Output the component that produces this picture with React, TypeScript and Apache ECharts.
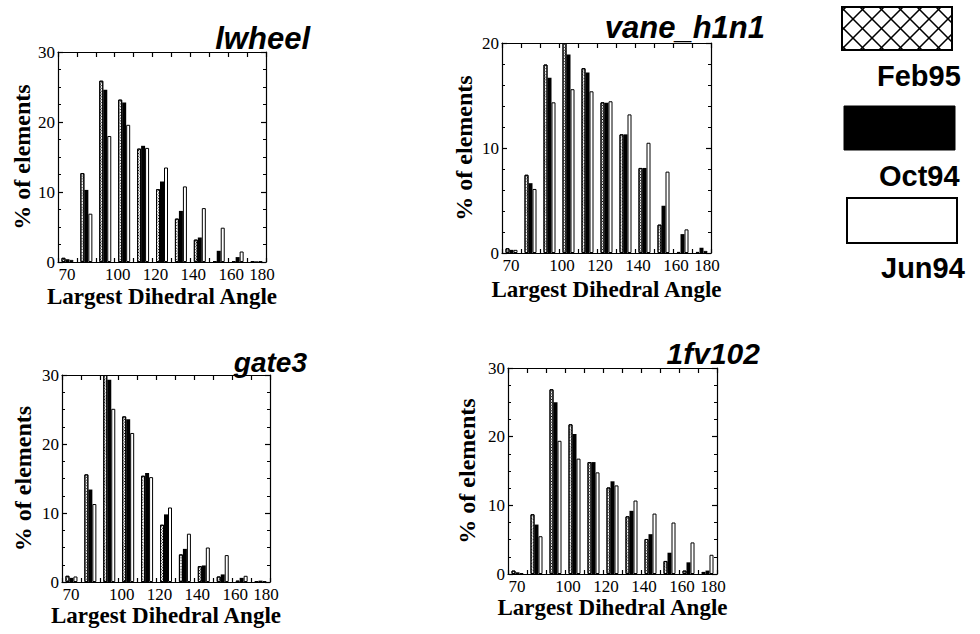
import React, { useEffect, useRef } from 'react';
import * as echarts from 'echarts';

const bins = ['70', '80', '90', '100', '110', '120', '130', '140', '150', '160', '170'];
const xTickLabels = [70, 100, 120, 140, 160, 180];
const legendNames = ['Feb95', 'Oct94', 'Jun94'];
const xAxisTitle = 'Largest Dihedral Angle';
const yAxisTitle = '% of elements';

const lwheelFeb95 = [0.6, 12.7, 25.9, 23.2, 16.2, 10.4, 6.2, 3.2, 0.1, 0.1, 0.1];
const lwheelOct94 = [0.4, 10.3, 24.6, 22.8, 16.6, 11.5, 7.3, 3.5, 1.6, 0.7, 0.1];
const lwheelJun94 = [0.3, 6.9, 18.0, 19.6, 16.3, 13.5, 10.8, 7.7, 4.9, 1.5, 0.1];

const vaneFeb95 = [0.45, 7.45, 17.95, 20, 17.6, 14.35, 11.3, 8.1, 2.7, 0.1, 0.1];
const vaneOct94 = [0.3, 6.65, 16.7, 18.9, 17.2, 14.3, 11.3, 8.1, 4.5, 1.8, 0.5];
const vaneJun94 = [0.3, 6.1, 14.35, 15.6, 15.4, 14.45, 13.2, 10.5, 7.75, 2.25, 0.2];

const gateFeb95 = [0.9, 15.6, 30, 24.0, 15.4, 8.3, 4.0, 2.3, 0.8, 0.2, 0.1];
const gateOct94 = [0.6, 13.4, 29.3, 23.6, 15.8, 9.8, 4.8, 2.4, 1.1, 0.6, 0.2];
const gateJun94 = [0.8, 11.3, 25.1, 21.6, 15.2, 10.8, 7.0, 5.0, 3.9, 0.9, 0.1];

const fvFeb95 = [0.5, 8.7, 26.9, 21.8, 16.3, 12.6, 8.4, 5.1, 1.9, 0.5, 0.3];
const fvOct94 = [0.25, 7.2, 25.0, 20.4, 16.3, 13.5, 9.2, 5.8, 3.1, 1.7, 0.5];
const fvJun94 = [0.1, 5.5, 19.4, 16.8, 14.8, 12.9, 10.7, 8.8, 7.5, 4.6, 2.8];

const SERIF = '"Liberation Serif", "Times New Roman", serif';
const SANS = '"Liberation Sans", Arial, sans-serif';
const TICK_FS = 17;

const panels = [
  { title: 'lwheel', feb: lwheelFeb95, oct: lwheelOct94, jun: lwheelJun94, yMax: 30, minor: 4,
    grid: { left: 58, top: 52, width: 208, height: 210 }, tx: 310, ty: 38.5, ts: 31, xGap: 23, yGap: 24 },
  { title: 'vane_h1n1', feb: vaneFeb95, oct: vaneOct94, jun: vaneJun94, yMax: 20, minor: 5,
    grid: { left: 502, top: 43, width: 209, height: 210 }, tx: 765, ty: 27.5, ts: 31, xGap: 25, yGap: 26 },
  { title: 'gate3', feb: gateFeb95, oct: gateOct94, jun: gateJun94, yMax: 30, minor: 4,
    grid: { left: 62, top: 375, width: 208, height: 207 }, tx: 307, ty: 362, ts: 28, xGap: 21, yGap: 27 },
  { title: '1fv102', feb: fvFeb95, oct: fvOct94, jun: fvJun94, yMax: 30, minor: 4,
    grid: { left: 508, top: 368, width: 209, height: 206 }, tx: 760, ty: 353, ts: 30, xGap: 19, yGap: 29 },
];

const lineStyle = { color: '#000', width: 1.2 };

function hatchLines(x: number, y: number, w: number, h: number, step: number) {
  const els: any[] = [];
  const ls = { stroke: '#000', lineWidth: 1.6 };
  for (let c = -h + 4; c < w; c += step) {
    const p1 = c >= 0 ? [c, 0] : [0, -c];
    const p2 = c + h <= w ? [c + h, h] : [w, w - c];
    els.push({ type: 'line', shape: { x1: x + p1[0], y1: y + p1[1], x2: x + p2[0], y2: y + p2[1] }, style: ls, silent: true });
  }
  for (let c = 4; c < w + h; c += step) {
    const p1 = c <= w ? [c, 0] : [w, c - w];
    const p2 = c - h >= 0 ? [c - h, h] : [0, c];
    els.push({ type: 'line', shape: { x1: x + p1[0], y1: y + p1[1], x2: x + p2[0], y2: y + p2[1] }, style: ls, silent: true });
  }
  return els;
}

function buildOption() {
  const grid: any[] = [];
  const xAxis: any[] = [];
  const yAxis: any[] = [];
  const series: any[] = [];
  const graphic: any[] = [];

  panels.forEach((p, i) => {
    grid.push({ ...p.grid, containLabel: false });
    xAxis.push({
      type: 'value', gridIndex: i, min: 70, max: 180, interval: 10, position: 'bottom',
      axisLine: { show: true, onZero: false, lineStyle },
      axisTick: { show: true, inside: true, length: 4, lineStyle },
      splitLine: { show: false },
      axisLabel: {
        margin: 4, color: '#000', fontFamily: SERIF, fontSize: TICK_FS,
        formatter: (v: number) => {
          if (v === 70) return '{a|70}';
          if (v === 180) return '{c|180}';
          if (xTickLabels.indexOf(v) >= 0) return '{b|' + v + '}';
          return '';
        },
        rich: {
          a: { padding: [0, 0, 0, 18], fontFamily: SERIF, fontSize: TICK_FS, color: '#000' },
          b: { padding: [0, 0, 0, 6], fontFamily: SERIF, fontSize: TICK_FS, color: '#000' },
          c: { padding: [0, 8, 0, 0], fontFamily: SERIF, fontSize: TICK_FS, color: '#000' },
        },
      },
      name: xAxisTitle, nameLocation: 'middle', nameGap: p.xGap,
      nameTextStyle: { fontFamily: SERIF, fontWeight: 'bold', fontSize: 23, color: '#000' },
    });
    xAxis.push({
      type: 'category', gridIndex: i, data: bins, position: 'top', boundaryGap: true,
      axisLine: { show: true, onZero: false, lineStyle },
      axisTick: { show: true, inside: true, length: 5, interval: 0, alignWithLabel: false, lineStyle },
      axisLabel: { show: false },
      splitLine: { show: false },
    });
    yAxis.push({
      type: 'value', gridIndex: i, min: 0, max: p.yMax, interval: 10, position: 'left',
      axisLine: { show: true, onZero: false, lineStyle },
      axisTick: { show: true, inside: true, length: 5, lineStyle },
      minorTick: { show: true, splitNumber: p.minor, length: 3, lineStyle: { color: '#000', width: 1 } },
      splitLine: { show: false },
      axisLabel: { margin: 3, color: '#000', fontFamily: SERIF, fontSize: TICK_FS, padding: [10, 0, 0, 0] },
      name: yAxisTitle, nameLocation: 'middle', nameRotate: 90, nameGap: p.yGap,
      nameTextStyle: { fontFamily: SERIF, fontWeight: 'bold', fontSize: 24, color: '#000' },
    });
    yAxis.push({
      type: 'value', gridIndex: i, min: 0, max: p.yMax, interval: 10, position: 'right',
      axisLine: { show: true, onZero: false, lineStyle },
      axisTick: { show: true, inside: true, length: 5, lineStyle },
      minorTick: { show: true, splitNumber: p.minor, length: 3, lineStyle: { color: '#000', width: 1 } },
      splitLine: { show: false },
      axisLabel: { show: false },
    });
    const common = { type: 'bar', xAxisIndex: 2 * i + 1, yAxisIndex: 2 * i, barWidth: 4, barGap: '0%' };
    series.push({
      ...common, name: legendNames[0], data: p.feb,
      itemStyle: {
        color: '#fff', borderColor: '#000', borderWidth: 1,
        decal: { symbol: 'rect', symbolSize: 1, dashArrayX: [1, 1], dashArrayY: [1, 1], rotation: Math.PI / 4, color: '#000', backgroundColor: '#bbb' },
      },
    });
    series.push({ ...common, name: legendNames[1], data: p.oct, itemStyle: { color: '#000', borderColor: '#000', borderWidth: 0 } });
    series.push({ ...common, name: legendNames[2], data: p.jun, itemStyle: { color: '#fff', borderColor: '#000', borderWidth: 1 } });

    graphic.push({
      type: 'text', x: p.tx, y: p.ty, silent: true,
      style: { text: p.title, fill: '#000', font: `italic bold ${p.ts}px ${SANS}`, textAlign: 'right', textVerticalAlign: 'middle' },
    });
  });

  graphic.push(...hatchLines(842, 7, 110, 43, 19));
  graphic.push({ type: 'rect', shape: { x: 842, y: 7, width: 110, height: 43 }, style: { fill: 'none', stroke: '#000', lineWidth: 2 }, silent: true });
  graphic.push({ type: 'rect', shape: { x: 844, y: 106, width: 111, height: 44 }, style: { fill: '#000', stroke: '#000', lineWidth: 1 }, silent: true });
  graphic.push({ type: 'rect', shape: { x: 847, y: 198, width: 110, height: 45 }, style: { fill: '#fff', stroke: '#000', lineWidth: 2 }, silent: true });
  const legendPos = [[877, 76], [879, 176], [881, 267.5]];
  legendNames.forEach((n, k) => {
    graphic.push({
      type: 'text', x: legendPos[k][0], y: legendPos[k][1], silent: true,
      style: { text: n, fill: '#000', font: `bold 29px ${SANS}`, textAlign: 'left', textVerticalAlign: 'middle' },
    });
  });

  return { animation: false, backgroundColor: '#fff', grid, xAxis, yAxis, series, graphic };
}

export default function App() {
  const ref = useRef<HTMLDivElement>(null);
  useEffect(() => {
    if (!ref.current) return;
    const chart = echarts.init(ref.current, undefined, { renderer: 'svg' });
    chart.setOption(buildOption() as any);
    return () => chart.dispose();
  }, []);
  return <div ref={ref} style={{ position: 'absolute', left: 0, top: 0, width: 980, height: 634, background: '#fff' }} />;
}
